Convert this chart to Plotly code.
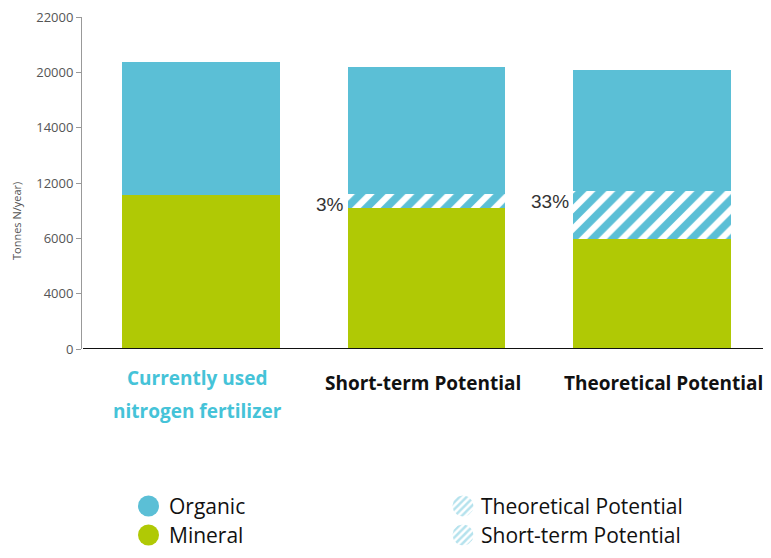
import numpy as np
import plotly.graph_objects as go

# page is 771x558; the html body adds an 8px margin around the figure
OFF = 8
PW, PH = 771, 558
W = PW - 2 * OFF
H = PH - 2 * OFF

# ---- data ----
categories = ["Currently used nitrogen fertilizer", "Short-term Potential", "Theoretical Potential"]
mineral = [11100, 10160, 7930]
potential = [0, 1080, 3460]
organic = [9660, 9150, 8790]
percent_labels = ["", "3%", "33%"]
tick_vals = [0, 4000, 8000, 12000, 16000, 20000, 24000]
tick_text = ["0", "4000", "6000", "12000", "14000", "20000", "22000"]
legend_solid = ["Organic", "Mineral"]
legend_hatched = ["Theoretical Potential", "Short-term Potential"]

BLUE = "#5bbfd6"
GREEN = "#b0c905"
CYAN_TXT = "#45c3d8"

fig = go.Figure()

fig.add_trace(go.Bar(x=categories, y=mineral, marker=dict(color=GREEN, line=dict(width=0)),
                     width=0.70, showlegend=False, hoverinfo="skip"))
fig.add_trace(go.Bar(x=categories, y=potential,
                     marker=dict(color=BLUE, line=dict(width=0),
                                 pattern=dict(shape="/", fgcolor=BLUE, bgcolor="white", fgopacity=1,
                                              size=14, solidity=0.55, fillmode="replace")),
                     width=0.70, showlegend=False, hoverinfo="skip"))
fig.add_trace(go.Bar(x=categories, y=organic, marker=dict(color=BLUE, line=dict(width=0)),
                     width=0.70, showlegend=False, hoverinfo="skip"))

annotations = []
for c, m, p, t in zip(categories, mineral, potential, percent_labels):
    if t:
        annotations.append(dict(x=c, y=m + p, xref="x", yref="y", text=t, showarrow=False,
                                xanchor="right", yanchor="top", xshift=-81, yshift=2,
                                font=dict(family="Liberation Sans, Arial", size=19, color="#333333")))

# category labels (page pixel coordinates via overlay axes)
cat_font = dict(family="Open Sans", size=19, color="#111111")
cyan_font = dict(family="Open Sans", size=19, color=CYAN_TXT)
annotations.append(dict(x=197, y=378, xref="x2", yref="y2", text="<b>Currently used</b>",
                        showarrow=False, font=cyan_font))
annotations.append(dict(x=197, y=411, xref="x2", yref="y2", text="<b>nitrogen fertilizer</b>",
                        showarrow=False, font=cyan_font))
annotations.append(dict(x=423, y=383, xref="x2", yref="y2", text="<b>" + categories[1] + "</b>",
                        showarrow=False, font=cat_font))
annotations.append(dict(x=663, y=383, xref="x2", yref="y2", text="<b>" + categories[2] + "</b>",
                        showarrow=False, font=cat_font))

# y-axis title
annotations.append(dict(x=16, y=221, xref="x2", yref="y2", text="Tonnes N/year)", textangle=-90,
                        showarrow=False, font=dict(family="Open Sans", size=11, color="#555555")))

# legend
leg_font = dict(family="Open Sans", size=21, color="#111111")
row_y = [506, 535]
shapes = []
for cy, name, col in zip(row_y, legend_solid, [BLUE, GREEN]):
    shapes.append(dict(type="circle", xref="x2", yref="y2", x0=138, x1=159, y0=cy - 10.5, y1=cy + 10.5,
                       fillcolor=col, line=dict(width=0)))
    annotations.append(dict(x=167, y=cy, xref="x2", yref="y2", text=name, showarrow=False,
                            xanchor="left", font=leg_font))

theta = np.linspace(0, 2 * np.pi, 60)
for cy, name in zip(row_y, legend_hatched):
    fig.add_trace(go.Scatter(x=463 + 10.5 * np.cos(theta), y=cy + 10.5 * np.sin(theta),
                             xaxis="x2", yaxis="y2", mode="lines", line=dict(width=0, color="rgba(0,0,0,0)"),
                             fill="toself", fillcolor="white",
                             fillpattern=dict(shape="/", fgcolor="#6cc6dc", bgcolor="white", size=5, solidity=0.5),
                             showlegend=False, hoverinfo="skip"))
    annotations.append(dict(x=479, y=cy, xref="x2", yref="y2", text=name, showarrow=False,
                            xanchor="left", font=leg_font))

# zero line
shapes.append(dict(type="line", xref="paper", yref="y", x0=(83 - OFF) / W, x1=1, y0=0, y1=0,
                   line=dict(color="#111111", width=2)))

fig.update_layout(
    width=W, height=H,
    margin=dict(l=0, r=0, t=0, b=0, autoexpand=False),
    paper_bgcolor="white", plot_bgcolor="rgba(0,0,0,0)",
    barmode="stack",
    showlegend=False,
    xaxis=dict(domain=[(82 - OFF) / W, 1], range=[-0.528, 2.492], showticklabels=False, showline=False,
               showgrid=False, zeroline=False, ticks="", automargin=False),
    yaxis=dict(domain=[(H - (349 - OFF)) / H, (H - (17 - OFF)) / H], range=[0, 24000],
               tickvals=tick_vals, ticktext=tick_text, ticklabeloverflow="allow",
               ticks="outside", ticklen=5, tickcolor="#999999", showline=True, linecolor="#999999",
               linewidth=1, showgrid=False, zeroline=False, automargin=False,
               tickfont=dict(family="Open Sans", size=13, color="#555555")),
    xaxis2=dict(domain=[0, 1], range=[OFF, OFF + W], visible=False, anchor="y2", fixedrange=True,
                automargin=False),
    yaxis2=dict(domain=[0, 1], range=[OFF + H, OFF], visible=False, anchor="x2", fixedrange=True,
                automargin=False),
    annotations=annotations,
    shapes=shapes,
)

fig.write_html("out.html")
